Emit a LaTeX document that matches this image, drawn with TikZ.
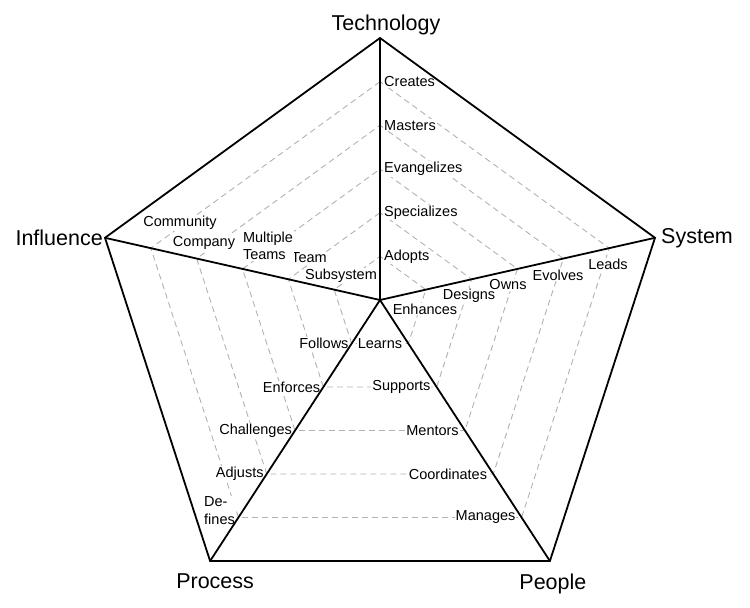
\documentclass[tikz,border=0pt]{standalone}
\usepackage{fontspec}
\setmainfont{Liberation Sans}
\usetikzlibrary{positioning,calc}

\begin{document}
\begin{tikzpicture}[x=1pt,y=-1pt,
    spoke/.style={line width=1.8pt},
    ring/.style={draw=gray!60,line width=0.9pt,dash pattern=on 6pt off 4pt},
    axis label/.style={inner sep=2pt,font=\fontsize{21.5}{26}\selectfont},
    tag/.style={fill=white,inner sep=1pt,font=\fontsize{14.5}{17.4}\selectfont}]

  \useasboundingbox (0,0) rectangle (750,608);

  \coordinate (H) at (380,300);
  \coordinate (T) at (380,38);
  \coordinate (S) at (655,237.8);
  \coordinate (P) at (549.9,561);
  \coordinate (R) at (210.1,561);
  \coordinate (I) at (105,237.8);

  % level marks on every spoke
  \foreach \v in {T,S,P,R,I}
    \foreach \k in {1,...,5}
      \coordinate (\v\k) at ($(H)!\k/6!(\v)$);

  \foreach \k in {1,...,5}
    \draw[ring] (T\k) -- (S\k) -- (P\k) -- (R\k) -- (I\k) -- cycle;

  % Technology
  \node[tag,anchor=west,xshift=3pt] (adopts) at (T1) {Adopts};
  \node[tag,anchor=west,xshift=3pt] (specializes) at (T2) {Specializes};
  \node[tag,anchor=west,xshift=3pt] (evangelizes) at (T3) {Evangelizes};
  \node[tag,anchor=west,xshift=3pt] (masters) at (T4) {Masters};
  \node[tag,anchor=west,xshift=3pt] (creates) at (T5) {Creates};

  % System
  \node[tag] (enhances) at (425,309) {Enhances};
  \node[tag] (designs) at (469,296) {Designs};
  \node[tag] (owns) at (508,285) {Owns};
  \node[tag] (evolves) at (558,275) {Evolves};
  \node[tag] (leads) at (608,264) {Leads};

  % People
  \node[tag,anchor=east,xshift=-5pt] (learns) at (P1) {Learns};
  \node[tag,anchor=east,xshift=-5pt] (supports) at (P2) {Supports};
  \node[tag,anchor=east,xshift=-5pt] (mentors) at (P3) {Mentors};
  \node[tag,anchor=east,xshift=-5pt] (coordinates) at (P4) {Coordinates};
  \node[tag,anchor=east,xshift=-5pt] (manages) at (P5) {Manages};

  % Process
  \node[tag,anchor=east,xshift=-2pt] (follows) at (R1) {Follows};
  \node[tag,anchor=east,xshift=-2pt] (enforces) at (R2) {Enforces};
  \node[tag,anchor=east,xshift=-2pt] (challenges) at (R3) {Challenges};
  \node[tag,anchor=east,xshift=-2pt] (adjusts) at (R4) {Adjusts};
  \node[tag,align=left] (defines) at (219.5,510.5) {De-\\fines};

  % Influence
  \node[tag] (subsystem) at (341,276) {Subsystem};
  \node[tag] (team) at (309,258) {Team};
  \node[tag,align=left] (multiple) at (268,246) {Multiple\\Teams};
  \node[tag] (company) at (204,243) {Company};
  \node[tag] (community) at (180,223) {Community};

  \draw[spoke] (T) -- (S) -- (P) -- (R) -- (I) -- cycle;
  \foreach \v in {T,S,P,R,I}
    \draw[spoke] (H) -- (\v);

  \node[axis label,above=1pt of T,xshift=6pt] (technology) {Technology};
  \node[axis label,right=4pt of S] (system) {System};
  \node[axis label,below=11pt of P,xshift=3pt] (people) {People};
  \node[axis label,below=11pt of R,xshift=5pt] (process) {Process};
  \node[axis label,left=0pt of I] (influence) {Influence};
\end{tikzpicture}
\end{document}
